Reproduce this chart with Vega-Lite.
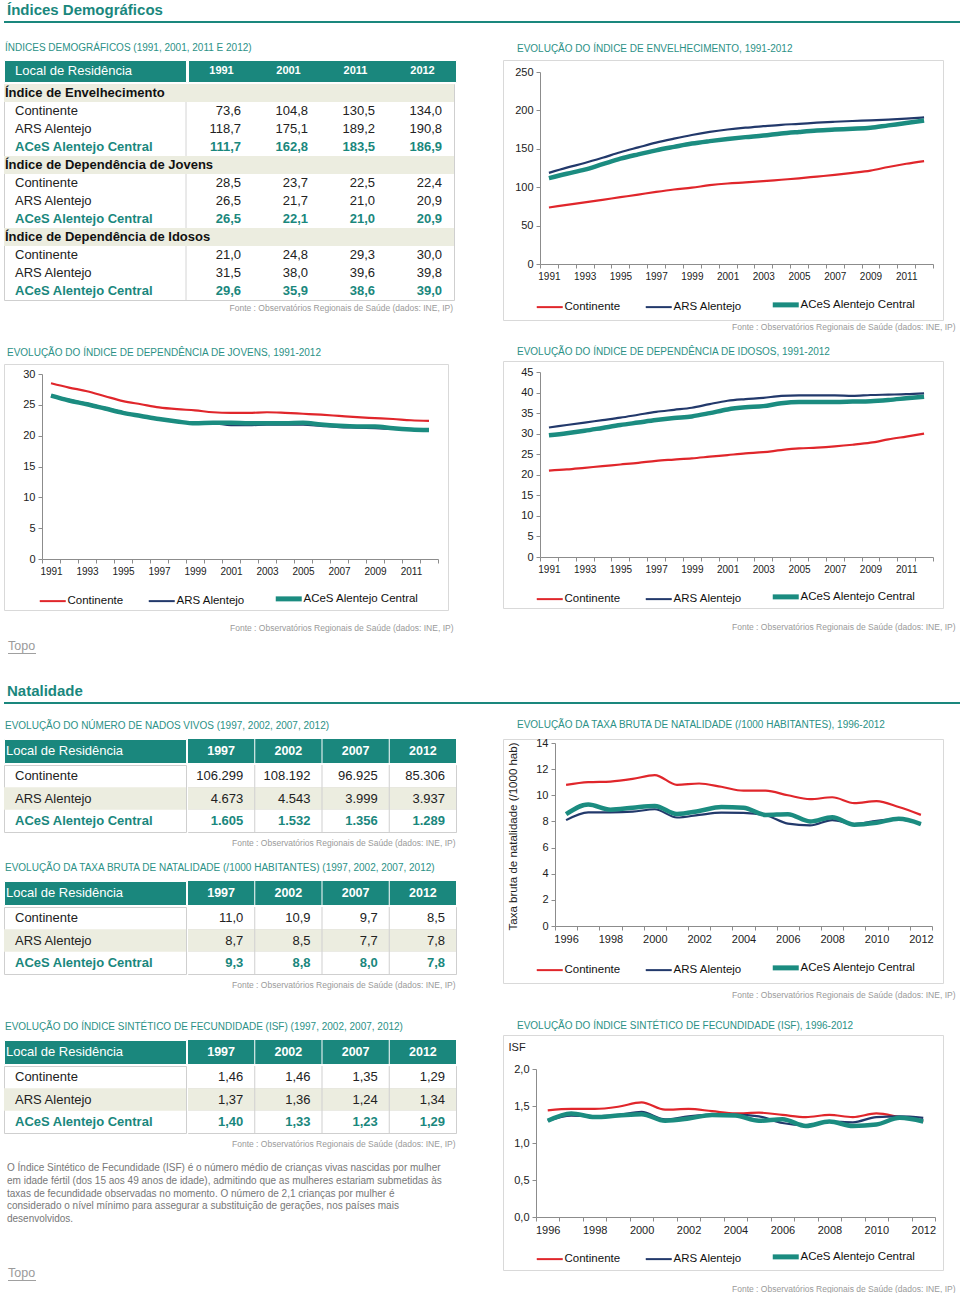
{
"$schema":"https://vega.github.io/schema/vega-lite/v6.json",
"background":"white",
"padding":{"left":3,"top":3,"right":0,"bottom":0},
"autosize":{"type":"pad"},
"config":{
 "font":"Liberation Sans",
 "view":{"stroke":null},
 "locale":{"number":{"decimal":",","thousands":".","grouping":[3],"currency":[""," €"]}},
 "title":{"font":"Liberation Sans","fontWeight":"normal","anchor":"start","frame":"group"},
 "axis":{"domainColor":"#8c8c8c","tickColor":"#8c8c8c","labelColor":"#222","labelFont":"Liberation Sans","labelFontSize":11,"grid":false,"tickSize":4,"labelPadding":3,"titleFont":"Liberation Sans","titleFontWeight":"normal","titleColor":"#222"},
 "axisX":{"labelAngle":0,"labelOverlap":false},
 "legend":{"labelFont":"Liberation Sans","labelFontSize":11.5,"labelColor":"#111","symbolType":"stroke","symbolSize":676,"symbolStrokeWidth":2,"columnPadding":20,"labelOffset":9,"padding":0}
},
"datasets":{
 "t1L":[
  {"r":1,"kind":"sec","label":"Índice de Envelhecimento"},
  {"r":2,"kind":"row","label":"Continente"},
  {"r":3,"kind":"row","label":"ARS Alentejo"},
  {"r":4,"kind":"hl","label":"ACeS Alentejo Central"},
  {"r":5,"kind":"sec","label":"Índice de Dependência de Jovens"},
  {"r":6,"kind":"row","label":"Continente"},
  {"r":7,"kind":"row","label":"ARS Alentejo"},
  {"r":8,"kind":"hl","label":"ACeS Alentejo Central"},
  {"r":9,"kind":"sec","label":"Índice de Dependência de Idosos"},
  {"r":10,"kind":"row","label":"Continente"},
  {"r":11,"kind":"row","label":"ARS Alentejo"},
  {"r":12,"kind":"hl","label":"ACeS Alentejo Central"}
 ],
 "t1V":[
  {"r":2,"kind":"row","year":1991,"v":73.6},{"r":2,"kind":"row","year":2001,"v":104.8},{"r":2,"kind":"row","year":2011,"v":130.5},{"r":2,"kind":"row","year":2012,"v":134.0},
  {"r":3,"kind":"row","year":1991,"v":118.7},{"r":3,"kind":"row","year":2001,"v":175.1},{"r":3,"kind":"row","year":2011,"v":189.2},{"r":3,"kind":"row","year":2012,"v":190.8},
  {"r":4,"kind":"hl","year":1991,"v":111.7},{"r":4,"kind":"hl","year":2001,"v":162.8},{"r":4,"kind":"hl","year":2011,"v":183.5},{"r":4,"kind":"hl","year":2012,"v":186.9},
  {"r":6,"kind":"row","year":1991,"v":28.5},{"r":6,"kind":"row","year":2001,"v":23.7},{"r":6,"kind":"row","year":2011,"v":22.5},{"r":6,"kind":"row","year":2012,"v":22.4},
  {"r":7,"kind":"row","year":1991,"v":26.5},{"r":7,"kind":"row","year":2001,"v":21.7},{"r":7,"kind":"row","year":2011,"v":21.0},{"r":7,"kind":"row","year":2012,"v":20.9},
  {"r":8,"kind":"hl","year":1991,"v":26.5},{"r":8,"kind":"hl","year":2001,"v":22.1},{"r":8,"kind":"hl","year":2011,"v":21.0},{"r":8,"kind":"hl","year":2012,"v":20.9},
  {"r":10,"kind":"row","year":1991,"v":21.0},{"r":10,"kind":"row","year":2001,"v":24.8},{"r":10,"kind":"row","year":2011,"v":29.3},{"r":10,"kind":"row","year":2012,"v":30.0},
  {"r":11,"kind":"row","year":1991,"v":31.5},{"r":11,"kind":"row","year":2001,"v":38.0},{"r":11,"kind":"row","year":2011,"v":39.6},{"r":11,"kind":"row","year":2012,"v":39.8},
  {"r":12,"kind":"hl","year":1991,"v":29.6},{"r":12,"kind":"hl","year":2001,"v":35.9},{"r":12,"kind":"hl","year":2011,"v":38.6},{"r":12,"kind":"hl","year":2012,"v":39.0}
 ],
 "tL":[
  {"r":1,"kind":"row","label":"Continente"},
  {"r":2,"kind":"row","label":"ARS Alentejo"},
  {"r":3,"kind":"hl","label":"ACeS Alentejo Central"}
 ],
 "tV":[
  {"t":"nat","r":1,"kind":"row","year":1997,"v":106299},{"t":"nat","r":1,"kind":"row","year":2002,"v":108192},{"t":"nat","r":1,"kind":"row","year":2007,"v":96925},{"t":"nat","r":1,"kind":"row","year":2012,"v":85306},
  {"t":"nat","r":2,"kind":"row","year":1997,"v":4673},{"t":"nat","r":2,"kind":"row","year":2002,"v":4543},{"t":"nat","r":2,"kind":"row","year":2007,"v":3999},{"t":"nat","r":2,"kind":"row","year":2012,"v":3937},
  {"t":"nat","r":3,"kind":"hl","year":1997,"v":1605},{"t":"nat","r":3,"kind":"hl","year":2002,"v":1532},{"t":"nat","r":3,"kind":"hl","year":2007,"v":1356},{"t":"nat","r":3,"kind":"hl","year":2012,"v":1289},
  {"t":"tbn","r":1,"kind":"row","year":1997,"v":11.0},{"t":"tbn","r":1,"kind":"row","year":2002,"v":10.9},{"t":"tbn","r":1,"kind":"row","year":2007,"v":9.7},{"t":"tbn","r":1,"kind":"row","year":2012,"v":8.5},
  {"t":"tbn","r":2,"kind":"row","year":1997,"v":8.7},{"t":"tbn","r":2,"kind":"row","year":2002,"v":8.5},{"t":"tbn","r":2,"kind":"row","year":2007,"v":7.7},{"t":"tbn","r":2,"kind":"row","year":2012,"v":7.8},
  {"t":"tbn","r":3,"kind":"hl","year":1997,"v":9.3},{"t":"tbn","r":3,"kind":"hl","year":2002,"v":8.8},{"t":"tbn","r":3,"kind":"hl","year":2007,"v":8.0},{"t":"tbn","r":3,"kind":"hl","year":2012,"v":7.8},
  {"t":"isf","r":1,"kind":"row","year":1997,"v":1.46},{"t":"isf","r":1,"kind":"row","year":2002,"v":1.46},{"t":"isf","r":1,"kind":"row","year":2007,"v":1.35},{"t":"isf","r":1,"kind":"row","year":2012,"v":1.29},
  {"t":"isf","r":2,"kind":"row","year":1997,"v":1.37},{"t":"isf","r":2,"kind":"row","year":2002,"v":1.36},{"t":"isf","r":2,"kind":"row","year":2007,"v":1.24},{"t":"isf","r":2,"kind":"row","year":2012,"v":1.34},
  {"t":"isf","r":3,"kind":"hl","year":1997,"v":1.40},{"t":"isf","r":3,"kind":"hl","year":2002,"v":1.33},{"t":"isf","r":3,"kind":"hl","year":2007,"v":1.23},{"t":"isf","r":3,"kind":"hl","year":2012,"v":1.29}
 ],
 "para":[
  {"i":1,"line":"O Índice Sintético de Fecundidade (ISF) é o número médio de crianças vivas nascidas por mulher"},
  {"i":2,"line":"em idade fértil (dos 15 aos 49 anos de idade), admitindo que as mulheres estariam submetidas às"},
  {"i":3,"line":"taxas de fecundidade observadas no momento. O número de 2,1 crianças por mulher é"},
  {"i":4,"line":"considerado o nível mínimo para assegurar a substituição de gerações, nos países mais"},
  {"i":5,"line":"desenvolvidos."}
 ],
 "env":[
  {"s":"Continente","year":1991,"v":73.6},{"s":"Continente","year":1992,"v":76.9},{"s":"Continente","year":1993,"v":80.2},{"s":"Continente","year":1994,"v":83.6},{"s":"Continente","year":1995,"v":87.0},{"s":"Continente","year":1996,"v":90.4},{"s":"Continente","year":1997,"v":93.9},{"s":"Continente","year":1998,"v":97.0},{"s":"Continente","year":1999,"v":99.4},{"s":"Continente","year":2000,"v":102.6},{"s":"Continente","year":2001,"v":104.8},{"s":"Continente","year":2002,"v":106.2},{"s":"Continente","year":2003,"v":107.8},{"s":"Continente","year":2004,"v":109.7},{"s":"Continente","year":2005,"v":111.6},{"s":"Continente","year":2006,"v":113.8},{"s":"Continente","year":2007,"v":116.0},{"s":"Continente","year":2008,"v":118.6},{"s":"Continente","year":2009,"v":121.6},{"s":"Continente","year":2010,"v":126.3},{"s":"Continente","year":2011,"v":130.5},{"s":"Continente","year":2012,"v":134.0},
  {"s":"ARS Alentejo","year":1991,"v":118.7},{"s":"ARS Alentejo","year":1992,"v":125.5},{"s":"ARS Alentejo","year":1993,"v":131.5},{"s":"ARS Alentejo","year":1994,"v":138.3},{"s":"ARS Alentejo","year":1995,"v":145.5},{"s":"ARS Alentejo","year":1996,"v":151.8},{"s":"ARS Alentejo","year":1997,"v":158.0},{"s":"ARS Alentejo","year":1998,"v":163.2},{"s":"ARS Alentejo","year":1999,"v":168.0},{"s":"ARS Alentejo","year":2000,"v":172.0},{"s":"ARS Alentejo","year":2001,"v":175.1},{"s":"ARS Alentejo","year":2002,"v":177.5},{"s":"ARS Alentejo","year":2003,"v":179.4},{"s":"ARS Alentejo","year":2004,"v":181.2},{"s":"ARS Alentejo","year":2005,"v":182.5},{"s":"ARS Alentejo","year":2006,"v":184.0},{"s":"ARS Alentejo","year":2007,"v":185.2},{"s":"ARS Alentejo","year":2008,"v":186.2},{"s":"ARS Alentejo","year":2009,"v":187.0},{"s":"ARS Alentejo","year":2010,"v":188.0},{"s":"ARS Alentejo","year":2011,"v":189.2},{"s":"ARS Alentejo","year":2012,"v":190.8},
  {"s":"ACeS Alentejo Central","year":1991,"v":111.7},{"s":"ACeS Alentejo Central","year":1992,"v":117.5},{"s":"ACeS Alentejo Central","year":1993,"v":122.8},{"s":"ACeS Alentejo Central","year":1994,"v":130.0},{"s":"ACeS Alentejo Central","year":1995,"v":137.2},{"s":"ACeS Alentejo Central","year":1996,"v":142.8},{"s":"ACeS Alentejo Central","year":1997,"v":148.0},{"s":"ACeS Alentejo Central","year":1998,"v":152.5},{"s":"ACeS Alentejo Central","year":1999,"v":156.8},{"s":"ACeS Alentejo Central","year":2000,"v":160.0},{"s":"ACeS Alentejo Central","year":2001,"v":162.8},{"s":"ACeS Alentejo Central","year":2002,"v":165.2},{"s":"ACeS Alentejo Central","year":2003,"v":167.2},{"s":"ACeS Alentejo Central","year":2004,"v":170.0},{"s":"ACeS Alentejo Central","year":2005,"v":172.0},{"s":"ACeS Alentejo Central","year":2006,"v":173.8},{"s":"ACeS Alentejo Central","year":2007,"v":175.0},{"s":"ACeS Alentejo Central","year":2008,"v":176.0},{"s":"ACeS Alentejo Central","year":2009,"v":177.3},{"s":"ACeS Alentejo Central","year":2010,"v":180.5},{"s":"ACeS Alentejo Central","year":2011,"v":183.5},{"s":"ACeS Alentejo Central","year":2012,"v":186.9}
 ],
 "jov":[
  {"s":"Continente","year":1991,"v":28.5},{"s":"Continente","year":1992,"v":27.8},{"s":"Continente","year":1993,"v":27.2},{"s":"Continente","year":1994,"v":26.4},{"s":"Continente","year":1995,"v":25.6},{"s":"Continente","year":1996,"v":25.1},{"s":"Continente","year":1997,"v":24.6},{"s":"Continente","year":1998,"v":24.3},{"s":"Continente","year":1999,"v":24.1},{"s":"Continente","year":2000,"v":23.8},{"s":"Continente","year":2001,"v":23.7},{"s":"Continente","year":2002,"v":23.7},{"s":"Continente","year":2003,"v":23.8},{"s":"Continente","year":2004,"v":23.7},{"s":"Continente","year":2005,"v":23.55},{"s":"Continente","year":2006,"v":23.4},{"s":"Continente","year":2007,"v":23.2},{"s":"Continente","year":2008,"v":23.0},{"s":"Continente","year":2009,"v":22.85},{"s":"Continente","year":2010,"v":22.7},{"s":"Continente","year":2011,"v":22.5},{"s":"Continente","year":2012,"v":22.4},
  {"s":"ARS Alentejo","year":1991,"v":26.5},{"s":"ARS Alentejo","year":1992,"v":25.8},{"s":"ARS Alentejo","year":1993,"v":25.2},{"s":"ARS Alentejo","year":1994,"v":24.5},{"s":"ARS Alentejo","year":1995,"v":23.8},{"s":"ARS Alentejo","year":1996,"v":23.2},{"s":"ARS Alentejo","year":1997,"v":22.7},{"s":"ARS Alentejo","year":1998,"v":22.3},{"s":"ARS Alentejo","year":1999,"v":22.0},{"s":"ARS Alentejo","year":2000,"v":22.0},{"s":"ARS Alentejo","year":2001,"v":21.7},{"s":"ARS Alentejo","year":2002,"v":21.7},{"s":"ARS Alentejo","year":2003,"v":21.8},{"s":"ARS Alentejo","year":2004,"v":21.8},{"s":"ARS Alentejo","year":2005,"v":21.8},{"s":"ARS Alentejo","year":2006,"v":21.6},{"s":"ARS Alentejo","year":2007,"v":21.4},{"s":"ARS Alentejo","year":2008,"v":21.3},{"s":"ARS Alentejo","year":2009,"v":21.2},{"s":"ARS Alentejo","year":2010,"v":21.1},{"s":"ARS Alentejo","year":2011,"v":21.0},{"s":"ARS Alentejo","year":2012,"v":20.9},
  {"s":"ACeS Alentejo Central","year":1991,"v":26.5},{"s":"ACeS Alentejo Central","year":1992,"v":25.7},{"s":"ACeS Alentejo Central","year":1993,"v":25.1},{"s":"ACeS Alentejo Central","year":1994,"v":24.4},{"s":"ACeS Alentejo Central","year":1995,"v":23.7},{"s":"ACeS Alentejo Central","year":1996,"v":23.2},{"s":"ACeS Alentejo Central","year":1997,"v":22.7},{"s":"ACeS Alentejo Central","year":1998,"v":22.3},{"s":"ACeS Alentejo Central","year":1999,"v":22.0},{"s":"ACeS Alentejo Central","year":2000,"v":22.1},{"s":"ACeS Alentejo Central","year":2001,"v":22.1},{"s":"ACeS Alentejo Central","year":2002,"v":22.0},{"s":"ACeS Alentejo Central","year":2003,"v":22.0},{"s":"ACeS Alentejo Central","year":2004,"v":22.0},{"s":"ACeS Alentejo Central","year":2005,"v":22.1},{"s":"ACeS Alentejo Central","year":2006,"v":21.8},{"s":"ACeS Alentejo Central","year":2007,"v":21.6},{"s":"ACeS Alentejo Central","year":2008,"v":21.5},{"s":"ACeS Alentejo Central","year":2009,"v":21.5},{"s":"ACeS Alentejo Central","year":2010,"v":21.2},{"s":"ACeS Alentejo Central","year":2011,"v":21.0},{"s":"ACeS Alentejo Central","year":2012,"v":20.9}
 ],
 "ido":[
  {"s":"Continente","year":1991,"v":21.0},{"s":"Continente","year":1992,"v":21.3},{"s":"Continente","year":1993,"v":21.7},{"s":"Continente","year":1994,"v":22.1},{"s":"Continente","year":1995,"v":22.5},{"s":"Continente","year":1996,"v":22.9},{"s":"Continente","year":1997,"v":23.4},{"s":"Continente","year":1998,"v":23.7},{"s":"Continente","year":1999,"v":24.0},{"s":"Continente","year":2000,"v":24.4},{"s":"Continente","year":2001,"v":24.8},{"s":"Continente","year":2002,"v":25.2},{"s":"Continente","year":2003,"v":25.5},{"s":"Continente","year":2004,"v":26.0},{"s":"Continente","year":2005,"v":26.4},{"s":"Continente","year":2006,"v":26.6},{"s":"Continente","year":2007,"v":26.9},{"s":"Continente","year":2008,"v":27.3},{"s":"Continente","year":2009,"v":27.8},{"s":"Continente","year":2010,"v":28.6},{"s":"Continente","year":2011,"v":29.3},{"s":"Continente","year":2012,"v":30.0},
  {"s":"ARS Alentejo","year":1991,"v":31.5},{"s":"ARS Alentejo","year":1992,"v":32.1},{"s":"ARS Alentejo","year":1993,"v":32.7},{"s":"ARS Alentejo","year":1994,"v":33.3},{"s":"ARS Alentejo","year":1995,"v":33.9},{"s":"ARS Alentejo","year":1996,"v":34.6},{"s":"ARS Alentejo","year":1997,"v":35.3},{"s":"ARS Alentejo","year":1998,"v":35.8},{"s":"ARS Alentejo","year":1999,"v":36.3},{"s":"ARS Alentejo","year":2000,"v":37.2},{"s":"ARS Alentejo","year":2001,"v":38.0},{"s":"ARS Alentejo","year":2002,"v":38.4},{"s":"ARS Alentejo","year":2003,"v":38.7},{"s":"ARS Alentejo","year":2004,"v":39.2},{"s":"ARS Alentejo","year":2005,"v":39.3},{"s":"ARS Alentejo","year":2006,"v":39.3},{"s":"ARS Alentejo","year":2007,"v":39.3},{"s":"ARS Alentejo","year":2008,"v":39.2},{"s":"ARS Alentejo","year":2009,"v":39.4},{"s":"ARS Alentejo","year":2010,"v":39.5},{"s":"ARS Alentejo","year":2011,"v":39.6},{"s":"ARS Alentejo","year":2012,"v":39.8},
  {"s":"ACeS Alentejo Central","year":1991,"v":29.6},{"s":"ACeS Alentejo Central","year":1992,"v":30.1},{"s":"ACeS Alentejo Central","year":1993,"v":30.7},{"s":"ACeS Alentejo Central","year":1994,"v":31.4},{"s":"ACeS Alentejo Central","year":1995,"v":32.1},{"s":"ACeS Alentejo Central","year":1996,"v":32.7},{"s":"ACeS Alentejo Central","year":1997,"v":33.3},{"s":"ACeS Alentejo Central","year":1998,"v":33.8},{"s":"ACeS Alentejo Central","year":1999,"v":34.2},{"s":"ACeS Alentejo Central","year":2000,"v":35.0},{"s":"ACeS Alentejo Central","year":2001,"v":35.9},{"s":"ACeS Alentejo Central","year":2002,"v":36.4},{"s":"ACeS Alentejo Central","year":2003,"v":36.7},{"s":"ACeS Alentejo Central","year":2004,"v":37.4},{"s":"ACeS Alentejo Central","year":2005,"v":37.7},{"s":"ACeS Alentejo Central","year":2006,"v":37.7},{"s":"ACeS Alentejo Central","year":2007,"v":37.7},{"s":"ACeS Alentejo Central","year":2008,"v":37.8},{"s":"ACeS Alentejo Central","year":2009,"v":37.9},{"s":"ACeS Alentejo Central","year":2010,"v":38.2},{"s":"ACeS Alentejo Central","year":2011,"v":38.6},{"s":"ACeS Alentejo Central","year":2012,"v":39.0}
 ],
 "tbn":[
  {"s":"Continente","year":1996,"v":10.8},{"s":"Continente","year":1997,"v":11.0},{"s":"Continente","year":1998,"v":11.05},{"s":"Continente","year":1999,"v":11.25},{"s":"Continente","year":2000,"v":11.55},{"s":"Continente","year":2001,"v":10.8},{"s":"Continente","year":2002,"v":10.9},{"s":"Continente","year":2003,"v":10.65},{"s":"Continente","year":2004,"v":10.35},{"s":"Continente","year":2005,"v":10.35},{"s":"Continente","year":2006,"v":10.0},{"s":"Continente","year":2007,"v":9.7},{"s":"Continente","year":2008,"v":9.85},{"s":"Continente","year":2009,"v":9.4},{"s":"Continente","year":2010,"v":9.55},{"s":"Continente","year":2011,"v":9.1},{"s":"Continente","year":2012,"v":8.5},
  {"s":"ARS Alentejo","year":1996,"v":8.1},{"s":"ARS Alentejo","year":1997,"v":8.7},{"s":"ARS Alentejo","year":1998,"v":8.7},{"s":"ARS Alentejo","year":1999,"v":8.75},{"s":"ARS Alentejo","year":2000,"v":8.93},{"s":"ARS Alentejo","year":2001,"v":8.3},{"s":"ARS Alentejo","year":2002,"v":8.5},{"s":"ARS Alentejo","year":2003,"v":8.67},{"s":"ARS Alentejo","year":2004,"v":8.65},{"s":"ARS Alentejo","year":2005,"v":8.47},{"s":"ARS Alentejo","year":2006,"v":7.83},{"s":"ARS Alentejo","year":2007,"v":7.7},{"s":"ARS Alentejo","year":2008,"v":8.1},{"s":"ARS Alentejo","year":2009,"v":7.8},{"s":"ARS Alentejo","year":2010,"v":8.05},{"s":"ARS Alentejo","year":2011,"v":8.15},{"s":"ARS Alentejo","year":2012,"v":7.8},
  {"s":"ACeS Alentejo Central","year":1996,"v":8.55},{"s":"ACeS Alentejo Central","year":1997,"v":9.3},{"s":"ACeS Alentejo Central","year":1998,"v":8.9},{"s":"ACeS Alentejo Central","year":1999,"v":9.05},{"s":"ACeS Alentejo Central","year":2000,"v":9.18},{"s":"ACeS Alentejo Central","year":2001,"v":8.57},{"s":"ACeS Alentejo Central","year":2002,"v":8.8},{"s":"ACeS Alentejo Central","year":2003,"v":9.1},{"s":"ACeS Alentejo Central","year":2004,"v":9.05},{"s":"ACeS Alentejo Central","year":2005,"v":8.5},{"s":"ACeS Alentejo Central","year":2006,"v":8.55},{"s":"ACeS Alentejo Central","year":2007,"v":8.0},{"s":"ACeS Alentejo Central","year":2008,"v":8.32},{"s":"ACeS Alentejo Central","year":2009,"v":7.75},{"s":"ACeS Alentejo Central","year":2010,"v":7.9},{"s":"ACeS Alentejo Central","year":2011,"v":8.2},{"s":"ACeS Alentejo Central","year":2012,"v":7.8}
 ],
 "isf":[
  {"s":"Continente","year":1996,"v":1.44},{"s":"Continente","year":1997,"v":1.46},{"s":"Continente","year":1998,"v":1.46},{"s":"Continente","year":1999,"v":1.49},{"s":"Continente","year":2000,"v":1.55},{"s":"Continente","year":2001,"v":1.45},{"s":"Continente","year":2002,"v":1.46},{"s":"Continente","year":2003,"v":1.43},{"s":"Continente","year":2004,"v":1.40},{"s":"Continente","year":2005,"v":1.41},{"s":"Continente","year":2006,"v":1.38},{"s":"Continente","year":2007,"v":1.35},{"s":"Continente","year":2008,"v":1.38},{"s":"Continente","year":2009,"v":1.35},{"s":"Continente","year":2010,"v":1.40},{"s":"Continente","year":2011,"v":1.35},{"s":"Continente","year":2012,"v":1.29},
  {"s":"ARS Alentejo","year":1996,"v":1.30},{"s":"ARS Alentejo","year":1997,"v":1.37},{"s":"ARS Alentejo","year":1998,"v":1.36},{"s":"ARS Alentejo","year":1999,"v":1.38},{"s":"ARS Alentejo","year":2000,"v":1.42},{"s":"ARS Alentejo","year":2001,"v":1.32},{"s":"ARS Alentejo","year":2002,"v":1.36},{"s":"ARS Alentejo","year":2003,"v":1.38},{"s":"ARS Alentejo","year":2004,"v":1.38},{"s":"ARS Alentejo","year":2005,"v":1.36},{"s":"ARS Alentejo","year":2006,"v":1.27},{"s":"ARS Alentejo","year":2007,"v":1.24},{"s":"ARS Alentejo","year":2008,"v":1.29},{"s":"ARS Alentejo","year":2009,"v":1.28},{"s":"ARS Alentejo","year":2010,"v":1.35},{"s":"ARS Alentejo","year":2011,"v":1.36},{"s":"ARS Alentejo","year":2012,"v":1.34},
  {"s":"ACeS Alentejo Central","year":1996,"v":1.30},{"s":"ACeS Alentejo Central","year":1997,"v":1.40},{"s":"ACeS Alentejo Central","year":1998,"v":1.35},{"s":"ACeS Alentejo Central","year":1999,"v":1.37},{"s":"ACeS Alentejo Central","year":2000,"v":1.39},{"s":"ACeS Alentejo Central","year":2001,"v":1.30},{"s":"ACeS Alentejo Central","year":2002,"v":1.33},{"s":"ACeS Alentejo Central","year":2003,"v":1.38},{"s":"ACeS Alentejo Central","year":2004,"v":1.37},{"s":"ACeS Alentejo Central","year":2005,"v":1.30},{"s":"ACeS Alentejo Central","year":2006,"v":1.32},{"s":"ACeS Alentejo Central","year":2007,"v":1.23},{"s":"ACeS Alentejo Central","year":2008,"v":1.29},{"s":"ACeS Alentejo Central","year":2009,"v":1.23},{"s":"ACeS Alentejo Central","year":2010,"v":1.25},{"s":"ACeS Alentejo Central","year":2011,"v":1.34},{"s":"ACeS Alentejo Central","year":2012,"v":1.29}
 ]
},
"resolve":{"legend":{"color":"independent"}},
"spacing":30,
"vconcat":[
 {"spacing":19,"resolve":{"legend":{"color":"independent"}},"vconcat":[
  {"width":957,"height":2,"view":{"fill":"#1a877d","stroke":null},
   "title":{"text":"Índices Demográficos","anchor":"start","frame":"group","offset":3,"dx":3,"fontSize":15,"fontWeight":"bold","color":"#1a877d"},
   "data":{"values":[]},"mark":"rect","encoding":{}},
  {"spacing":45,"resolve":{"legend":{"color":"independent"}},"hconcat":[
   {"spacing":34,"resolve":{"legend":{"color":"independent"}},"vconcat":[
    {"spacing":0,
     "title":{"text":"ÍNDICES DEMOGRÁFICOS (1991, 2001, 2011 E 2012)","anchor":"start","frame":"group","offset":7,"dx":1,"fontSize":10,"fontWeight":"normal","color":"#2b9186"},
     "vconcat":[
      {"spacing":0,"hconcat":[
       {"width":182,"height":22,"view":{"fill":"#1a877d","stroke":"white"},"data":{"values":[{"h":"Local de Residência"}]},
        "mark":{"type":"text","align":"left","dx":11,"fontSize":13,"color":"white"},
        "encoding":{"x":{"datum":0,"type":"quantitative","scale":{"domain":[0,1]},"axis":null},"text":{"field":"h"}}},
       {"width":268,"height":22,"view":{"fill":"#1a877d","stroke":"white"},"data":{"values":[{"year":1991},{"year":2001},{"year":2011},{"year":2012}]},
        "mark":{"type":"text","fontSize":11,"fontWeight":"bold","color":"white"},
        "encoding":{"x":{"field":"year","type":"ordinal","axis":null,"scale":{"type":"band","paddingInner":0,"paddingOuter":0}},"text":{"field":"year"}}}
      ]},
      {"width":450,"height":216,"view":{"stroke":"#cfcfcf"},
       "title":{"text":"Fonte : Observatórios Regionais de Saúde (dados: INE, IP)","orient":"bottom","anchor":"end","frame":"group","offset":3,"dx":-1,"fontSize":8.5,"fontWeight":"normal","color":"#9a9a9a"},
       "resolve":{"scale":{"x":"independent"}},
       "layer":[
        {"data":{"name":"t1L"},"transform":[{"filter":"datum.r == 2"}],"mark":{"type":"rule","color":"#d4d4d4"},
         "encoding":{"x":{"datum":1991,"type":"ordinal","bandPosition":0,"scale":{"type":"band","domain":[1991,2001,2011,2012],"range":[182,450],"paddingInner":0,"paddingOuter":0},"axis":null}}},
        {"data":{"name":"t1L"},"transform":[{"filter":"datum.kind == 'sec'"}],"mark":{"type":"rect","fill":"#ecede0"},
         "encoding":{"y":{"field":"r","type":"ordinal","axis":null,"scale":{"domain":[1,2,3,4,5,6,7,8,9,10,11,12],"paddingInner":0,"paddingOuter":0}}}},
        {"data":{"name":"t1L"},"transform":[{"filter":"datum.kind == 'sec'"}],"mark":{"type":"text","align":"left","dx":1,"fontSize":13,"fontWeight":"bold","color":"#111"},
         "encoding":{"y":{"field":"r","type":"ordinal","axis":null},"x":{"datum":0,"type":"quantitative","scale":{"domain":[0,1]},"axis":null},"text":{"field":"label"}}},
        {"data":{"name":"t1L"},"transform":[{"filter":"datum.kind == 'row'"}],"mark":{"type":"text","align":"left","dx":11,"fontSize":13,"color":"#222"},
         "encoding":{"y":{"field":"r","type":"ordinal","axis":null},"x":{"datum":0,"type":"quantitative","scale":{"domain":[0,1]},"axis":null},"text":{"field":"label"}}},
        {"data":{"name":"t1L"},"transform":[{"filter":"datum.kind == 'hl'"}],"mark":{"type":"text","align":"left","dx":11,"fontSize":13,"fontWeight":"bold","color":"#1a877d"},
         "encoding":{"y":{"field":"r","type":"ordinal","axis":null},"x":{"datum":0,"type":"quantitative","scale":{"domain":[0,1]},"axis":null},"text":{"field":"label"}}},
        {"data":{"name":"t1V"},"transform":[{"filter":"datum.kind == 'row'"}],"mark":{"type":"text","align":"right","dx":-12,"fontSize":13,"color":"#222"},
         "encoding":{"y":{"field":"r","type":"ordinal","axis":null},"x":{"field":"year","type":"ordinal","axis":null,"bandPosition":1,"scale":{"type":"band","range":[182,450],"paddingInner":0,"paddingOuter":0}},"text":{"field":"v","format":".1f"}}},
        {"data":{"name":"t1V"},"transform":[{"filter":"datum.kind == 'hl'"}],"mark":{"type":"text","align":"right","dx":-12,"fontSize":13,"fontWeight":"bold","color":"#1a877d"},
         "encoding":{"y":{"field":"r","type":"ordinal","axis":null},"x":{"field":"year","type":"ordinal","axis":null,"bandPosition":1,"scale":{"type":"band","range":[182,450],"paddingInner":0,"paddingOuter":0}},"text":{"field":"v","format":".1f"}}}
       ]}
     ]},
    {"spacing":7,"resolve":{"legend":{"color":"independent"}},"vconcat":[
     {"resolve":{"legend":{"color":"independent"}},
      "title":{"text":"Fonte : Observatórios Regionais de Saúde (dados: INE, IP)","orient":"bottom","anchor":"end","frame":"bounds","offset":13,"dx":5,"fontSize":8.5,"fontWeight":"normal","color":"#9a9a9a"},
      "vconcat":[{
       "title":{"text":"EVOLUÇÃO DO ÍNDICE DE DEPENDÊNCIA DE JOVENS, 1991-2012","anchor":"start","frame":"group","offset":6,"dx":3,"fontSize":10,"fontWeight":"normal","color":"#2b9186"},
       "width":444,"height":246,"view":{"stroke":"#d9d9d9"},
       "data":{"name":"jov"},
       "mark":{"type":"line","interpolate":"monotone"},
       "encoding":{
        "x":{"field":"year","type":"ordinal","bandPosition":0.5,"scale":{"type":"band","paddingInner":0,"paddingOuter":0,"range":[38,434]},"axis":{"offset":-51,"tickBand":"extent","labelExpr":"datum.value % 2 == 1 ? datum.label : ''","labelFontSize":10,"title":null}},
        "y":{"field":"v","type":"quantitative","scale":{"domain":[0,30],"range":[195,10],"nice":false},"axis":{"offset":-38,"values":[0,5,10,15,20,25,30],"title":null}},
        "color":{"field":"s","type":"nominal","scale":{"domain":["Continente","ARS Alentejo","ACeS Alentejo Central"],"range":["#e0262b","#22396b","#1b8c80"]},
         "legend":{"title":null,"orient":"none","legendX":43,"legendY":229,"direction":"horizontal","symbolType":"stroke","symbolSize":676,"columnPadding":20,"labelOffset":9,"encode":{"symbols":{"update":{"strokeWidth":{"signal":"datum.value == 'ACeS Alentejo Central' ? 5 : 2"}}}}}},
        "strokeWidth":{"condition":{"test":"datum.s == 'ACeS Alentejo Central'","value":4.5},"value":2.2}
       }
      }]},
     {"spacing":3,"hconcat":[
      {"width":1,"height":1,"data":{"values":[]},"mark":"rect","encoding":{}},
      {"width":28,"height":1,"view":{"fill":"#a0a0a0","stroke":null},
       "title":{"text":"Topo","anchor":"start","frame":"group","offset":1,"fontSize":12.5,"fontWeight":"normal","color":"#9a9a9a"},
       "data":{"values":[]},"mark":"rect","encoding":{}}
     ]}
    ]}
   ]},
   {"spacing":15,"resolve":{"legend":{"color":"independent"}},"vconcat":[
    {"resolve":{"legend":{"color":"independent"}},
     "title":{"text":"Fonte : Observatórios Regionais de Saúde (dados: INE, IP)","orient":"bottom","anchor":"end","frame":"bounds","offset":2,"dx":12,"fontSize":8.5,"fontWeight":"normal","color":"#9a9a9a"},
     "vconcat":[{
      "title":{"text":"EVOLUÇÃO DO ÍNDICE DE ENVELHECIMENTO, 1991-2012","anchor":"start","frame":"group","offset":6,"dx":14,"fontSize":10,"fontWeight":"normal","color":"#2b9186"},
      "width":440,"height":260,"view":{"stroke":"#d9d9d9"},
      "data":{"name":"env"},
      "mark":{"type":"line","interpolate":"monotone"},
      "encoding":{
       "x":{"field":"year","type":"ordinal","bandPosition":0.5,"scale":{"type":"band","paddingInner":0,"paddingOuter":0,"range":[37,430]},"axis":{"offset":-56,"tickBand":"extent","labelExpr":"datum.value % 2 == 1 ? datum.label : ''","labelFontSize":10,"title":null}},
       "y":{"field":"v","type":"quantitative","scale":{"domain":[0,250],"range":[204,12],"nice":false},"axis":{"offset":-37,"values":[0,50,100,150,200,250],"title":null}},
       "color":{"field":"s","type":"nominal","scale":{"domain":["Continente","ARS Alentejo","ACeS Alentejo Central"],"range":["#e0262b","#22396b","#1b8c80"]},
        "legend":{"title":null,"orient":"none","legendX":41,"legendY":239,"direction":"horizontal","symbolType":"stroke","symbolSize":676,"columnPadding":20,"labelOffset":9,"encode":{"symbols":{"update":{"strokeWidth":{"signal":"datum.value == 'ACeS Alentejo Central' ? 5 : 2"}}}}}},
       "strokeWidth":{"condition":{"test":"datum.s == 'ACeS Alentejo Central'","value":4.5},"value":2.2}
      }
     }]},
    {"resolve":{"legend":{"color":"independent"}},
     "title":{"text":"Fonte : Observatórios Regionais de Saúde (dados: INE, IP)","orient":"bottom","anchor":"end","frame":"bounds","offset":14,"dx":12,"fontSize":8.5,"fontWeight":"normal","color":"#9a9a9a"},
     "vconcat":[{
      "title":{"text":"EVOLUÇÃO DO ÍNDICE DE DEPENDÊNCIA DE IDOSOS, 1991-2012","anchor":"start","frame":"group","offset":4,"dx":14,"fontSize":10,"fontWeight":"normal","color":"#2b9186"},
      "width":440,"height":247,"view":{"stroke":"#d9d9d9"},
      "data":{"name":"ido"},
      "mark":{"type":"line","interpolate":"monotone"},
      "encoding":{
       "x":{"field":"year","type":"ordinal","bandPosition":0.5,"scale":{"type":"band","paddingInner":0,"paddingOuter":0,"range":[37,430]},"axis":{"offset":-51,"tickBand":"extent","labelExpr":"datum.value % 2 == 1 ? datum.label : ''","labelFontSize":10,"title":null}},
       "y":{"field":"v","type":"quantitative","scale":{"domain":[0,45],"range":[196,11],"nice":false},"axis":{"offset":-37,"values":[0,5,10,15,20,25,30,35,40,45],"title":null}},
       "color":{"field":"s","type":"nominal","scale":{"domain":["Continente","ARS Alentejo","ACeS Alentejo Central"],"range":["#e0262b","#22396b","#1b8c80"]},
        "legend":{"title":null,"orient":"none","legendX":41,"legendY":230,"direction":"horizontal","symbolType":"stroke","symbolSize":676,"columnPadding":20,"labelOffset":9,"encode":{"symbols":{"update":{"strokeWidth":{"signal":"datum.value == 'ACeS Alentejo Central' ? 5 : 2"}}}}}},
       "strokeWidth":{"condition":{"test":"datum.s == 'ACeS Alentejo Central'","value":4.5},"value":2.2}
      }
     }]}
   ]}
  ]}
 ]},
 {"spacing":15,"resolve":{"legend":{"color":"independent"}},"vconcat":[
  {"width":957,"height":2,"view":{"fill":"#1a877d","stroke":null},
   "title":{"text":"Natalidade","anchor":"start","frame":"group","offset":3,"dx":3,"fontSize":15,"fontWeight":"bold","color":"#1a877d"},
   "data":{"values":[]},"mark":"rect","encoding":{}},
  {"spacing":45,"resolve":{"legend":{"color":"independent"}},"hconcat":[
   {"spacing":32,"vconcat":[
    {"spacing":15,"vconcat":[
     {"spacing":0,
      "title":{"text":"EVOLUÇÃO DO NÚMERO DE NADOS VIVOS (1997, 2002, 2007, 2012)","anchor":"start","frame":"group","offset":8,"dx":1,"fontSize":10,"fontWeight":"normal","color":"#2b9186"},
      "vconcat":[
       {"spacing":0,"hconcat":[
        {"width":182,"height":24,"view":{"fill":"#1a877d","stroke":"white"},"data":{"values":[{"h":"Local de Residência"}]},
         "mark":{"type":"text","align":"left","dx":2,"fontSize":13,"color":"white"},
         "encoding":{"x":{"datum":0,"type":"quantitative","scale":{"domain":[0,1]},"axis":null},"text":{"field":"h"}}},
        {"width":268,"height":24,"view":{"fill":"white","stroke":"white"},"data":{"values":[{"year":1997},{"year":2002},{"year":2007},{"year":2012}]},
         "encoding":{"x":{"field":"year","type":"ordinal","axis":null,"scale":{"paddingInner":0.015,"paddingOuter":0}}},
         "layer":[
          {"mark":{"type":"rect","fill":"#1a877d"}},
          {"mark":{"type":"text","fontSize":12.5,"fontWeight":"bold","color":"white"},"encoding":{"text":{"field":"year"}}}
         ]}
       ]},
       {"spacing":0,
        "title":{"text":"Fonte : Observatórios Regionais de Saúde (dados: INE, IP)","orient":"bottom","anchor":"end","frame":"bounds","offset":6,"dx":-1,"fontSize":8.5,"fontWeight":"normal","color":"#9a9a9a"},
        "hconcat":[
        {"width":182,"height":67,"view":{"stroke":"#cfcfcf"},"data":{"name":"tL"},
         "encoding":{"y":{"field":"r","type":"ordinal","axis":null,"scale":{"paddingInner":0,"paddingOuter":0}}},
         "layer":[
          {"transform":[{"filter":"datum.r == 2"}],"mark":{"type":"rect","fill":"#ecede0"}},
          {"transform":[{"filter":"datum.kind == 'row'"}],"mark":{"type":"text","align":"left","dx":11,"fontSize":13,"color":"#222"},
           "encoding":{"x":{"datum":0,"type":"quantitative","scale":{"domain":[0,1]},"axis":null},"text":{"field":"label"}}},
          {"transform":[{"filter":"datum.kind == 'hl'"}],"mark":{"type":"text","align":"left","dx":11,"fontSize":13,"fontWeight":"bold","color":"#1a877d"},
           "encoding":{"x":{"datum":0,"type":"quantitative","scale":{"domain":[0,1]},"axis":null},"text":{"field":"label"}}}
         ]},
        {"width":268,"height":67,"view":{"fill":"#d0d0d0","stroke":"#cfcfcf"},"data":{"name":"tV"},"transform":[{"filter":"datum.t == 'nat'"}],
         "encoding":{"y":{"field":"r","type":"ordinal","axis":null,"scale":{"paddingInner":0,"paddingOuter":0}},"x":{"field":"year","type":"ordinal","axis":null,"scale":{"paddingInner":0.015,"paddingOuter":0}}},
         "layer":[
          {"mark":{"type":"rect"},"encoding":{"fill":{"condition":{"test":"datum.r == 2","value":"#ecede0"},"value":"white"}}},
          {"transform":[{"filter":"datum.kind == 'row'"}],"mark":{"type":"text","align":"right","dx":-11,"fontSize":13,"color":"#222"},
           "encoding":{"x":{"field":"year","type":"ordinal","axis":null,"bandPosition":1},"text":{"field":"v","format":",.0f"}}},
          {"transform":[{"filter":"datum.kind == 'hl'"}],"mark":{"type":"text","align":"right","dx":-11,"fontSize":13,"fontWeight":"bold","color":"#1a877d"},
           "encoding":{"x":{"field":"year","type":"ordinal","axis":null,"bandPosition":1},"text":{"field":"v","format":",.0f"}}}
         ]}
       ]}
      ]},
     {"spacing":0,
      "title":{"text":"EVOLUÇÃO DA TAXA BRUTA DE NATALIDADE (/1000 HABITANTES) (1997, 2002, 2007, 2012)","anchor":"start","frame":"group","offset":8,"dx":1,"fontSize":10,"fontWeight":"normal","color":"#2b9186"},
      "vconcat":[
       {"spacing":0,"hconcat":[
        {"width":182,"height":24,"view":{"fill":"#1a877d","stroke":"white"},"data":{"values":[{"h":"Local de Residência"}]},
         "mark":{"type":"text","align":"left","dx":2,"fontSize":13,"color":"white"},
         "encoding":{"x":{"datum":0,"type":"quantitative","scale":{"domain":[0,1]},"axis":null},"text":{"field":"h"}}},
        {"width":268,"height":24,"view":{"fill":"white","stroke":"white"},"data":{"values":[{"year":1997},{"year":2002},{"year":2007},{"year":2012}]},
         "encoding":{"x":{"field":"year","type":"ordinal","axis":null,"scale":{"paddingInner":0.015,"paddingOuter":0}}},
         "layer":[
          {"mark":{"type":"rect","fill":"#1a877d"}},
          {"mark":{"type":"text","fontSize":12.5,"fontWeight":"bold","color":"white"},"encoding":{"text":{"field":"year"}}}
         ]}
       ]},
       {"spacing":0,
        "title":{"text":"Fonte : Observatórios Regionais de Saúde (dados: INE, IP)","orient":"bottom","anchor":"end","frame":"bounds","offset":6,"dx":-1,"fontSize":8.5,"fontWeight":"normal","color":"#9a9a9a"},
        "hconcat":[
        {"width":182,"height":67,"view":{"stroke":"#cfcfcf"},"data":{"name":"tL"},
         "encoding":{"y":{"field":"r","type":"ordinal","axis":null,"scale":{"paddingInner":0,"paddingOuter":0}}},
         "layer":[
          {"transform":[{"filter":"datum.r == 2"}],"mark":{"type":"rect","fill":"#ecede0"}},
          {"transform":[{"filter":"datum.kind == 'row'"}],"mark":{"type":"text","align":"left","dx":11,"fontSize":13,"color":"#222"},
           "encoding":{"x":{"datum":0,"type":"quantitative","scale":{"domain":[0,1]},"axis":null},"text":{"field":"label"}}},
          {"transform":[{"filter":"datum.kind == 'hl'"}],"mark":{"type":"text","align":"left","dx":11,"fontSize":13,"fontWeight":"bold","color":"#1a877d"},
           "encoding":{"x":{"datum":0,"type":"quantitative","scale":{"domain":[0,1]},"axis":null},"text":{"field":"label"}}}
         ]},
        {"width":268,"height":67,"view":{"fill":"#d0d0d0","stroke":"#cfcfcf"},"data":{"name":"tV"},"transform":[{"filter":"datum.t == 'tbn'"}],
         "encoding":{"y":{"field":"r","type":"ordinal","axis":null,"scale":{"paddingInner":0,"paddingOuter":0}},"x":{"field":"year","type":"ordinal","axis":null,"scale":{"paddingInner":0.015,"paddingOuter":0}}},
         "layer":[
          {"mark":{"type":"rect"},"encoding":{"fill":{"condition":{"test":"datum.r == 2","value":"#ecede0"},"value":"white"}}},
          {"transform":[{"filter":"datum.kind == 'row'"}],"mark":{"type":"text","align":"right","dx":-11,"fontSize":13,"color":"#222"},
           "encoding":{"x":{"field":"year","type":"ordinal","axis":null,"bandPosition":1},"text":{"field":"v","format":".1f"}}},
          {"transform":[{"filter":"datum.kind == 'hl'"}],"mark":{"type":"text","align":"right","dx":-11,"fontSize":13,"fontWeight":"bold","color":"#1a877d"},
           "encoding":{"x":{"field":"year","type":"ordinal","axis":null,"bandPosition":1},"text":{"field":"v","format":".1f"}}}
         ]}
       ]}
      ]}
    ]},
    {"spacing":14,"vconcat":[
     {"spacing":0,
      "title":{"text":"EVOLUÇÃO DO ÍNDICE SINTÉTICO DE FECUNDIDADE (ISF) (1997, 2002, 2007, 2012)","anchor":"start","frame":"group","offset":8,"dx":1,"fontSize":10,"fontWeight":"normal","color":"#2b9186"},
      "vconcat":[
       {"spacing":0,"hconcat":[
        {"width":182,"height":24,"view":{"fill":"#1a877d","stroke":"white"},"data":{"values":[{"h":"Local de Residência"}]},
         "mark":{"type":"text","align":"left","dx":2,"fontSize":13,"color":"white"},
         "encoding":{"x":{"datum":0,"type":"quantitative","scale":{"domain":[0,1]},"axis":null},"text":{"field":"h"}}},
        {"width":268,"height":24,"view":{"fill":"white","stroke":"white"},"data":{"values":[{"year":1997},{"year":2002},{"year":2007},{"year":2012}]},
         "encoding":{"x":{"field":"year","type":"ordinal","axis":null,"scale":{"paddingInner":0.015,"paddingOuter":0}}},
         "layer":[
          {"mark":{"type":"rect","fill":"#1a877d"}},
          {"mark":{"type":"text","fontSize":12.5,"fontWeight":"bold","color":"white"},"encoding":{"text":{"field":"year"}}}
         ]}
       ]},
       {"spacing":0,
        "title":{"text":"Fonte : Observatórios Regionais de Saúde (dados: INE, IP)","orient":"bottom","anchor":"end","frame":"bounds","offset":6,"dx":-1,"fontSize":8.5,"fontWeight":"normal","color":"#9a9a9a"},
        "hconcat":[
        {"width":182,"height":67,"view":{"stroke":"#cfcfcf"},"data":{"name":"tL"},
         "encoding":{"y":{"field":"r","type":"ordinal","axis":null,"scale":{"paddingInner":0,"paddingOuter":0}}},
         "layer":[
          {"transform":[{"filter":"datum.r == 2"}],"mark":{"type":"rect","fill":"#ecede0"}},
          {"transform":[{"filter":"datum.kind == 'row'"}],"mark":{"type":"text","align":"left","dx":11,"fontSize":13,"color":"#222"},
           "encoding":{"x":{"datum":0,"type":"quantitative","scale":{"domain":[0,1]},"axis":null},"text":{"field":"label"}}},
          {"transform":[{"filter":"datum.kind == 'hl'"}],"mark":{"type":"text","align":"left","dx":11,"fontSize":13,"fontWeight":"bold","color":"#1a877d"},
           "encoding":{"x":{"datum":0,"type":"quantitative","scale":{"domain":[0,1]},"axis":null},"text":{"field":"label"}}}
         ]},
        {"width":268,"height":67,"view":{"fill":"#d0d0d0","stroke":"#cfcfcf"},"data":{"name":"tV"},"transform":[{"filter":"datum.t == 'isf'"}],
         "encoding":{"y":{"field":"r","type":"ordinal","axis":null,"scale":{"paddingInner":0,"paddingOuter":0}},"x":{"field":"year","type":"ordinal","axis":null,"scale":{"paddingInner":0.015,"paddingOuter":0}}},
         "layer":[
          {"mark":{"type":"rect"},"encoding":{"fill":{"condition":{"test":"datum.r == 2","value":"#ecede0"},"value":"white"}}},
          {"transform":[{"filter":"datum.kind == 'row'"}],"mark":{"type":"text","align":"right","dx":-11,"fontSize":13,"color":"#222"},
           "encoding":{"x":{"field":"year","type":"ordinal","axis":null,"bandPosition":1},"text":{"field":"v","format":".2f"}}},
          {"transform":[{"filter":"datum.kind == 'hl'"}],"mark":{"type":"text","align":"right","dx":-11,"fontSize":13,"fontWeight":"bold","color":"#1a877d"},
           "encoding":{"x":{"field":"year","type":"ordinal","axis":null,"bandPosition":1},"text":{"field":"v","format":".2f"}}}
         ]}
       ]}
      ]},
     {"spacing":41,"vconcat":[
      {"width":450,"height":63,"data":{"name":"para"},
       "mark":{"type":"text","align":"left","dx":3,"fontSize":10,"color":"#777"},
       "encoding":{"y":{"field":"i","type":"ordinal","axis":null,"scale":{"paddingInner":0,"paddingOuter":0}},"x":{"datum":0,"type":"quantitative","scale":{"domain":[0,1]},"axis":null},"text":{"field":"line"}}},
      {"spacing":3,"hconcat":[
       {"width":1,"height":1,"data":{"values":[]},"mark":"rect","encoding":{}},
       {"width":28,"height":1,"view":{"fill":"#a0a0a0","stroke":null},
        "title":{"text":"Topo","anchor":"start","frame":"group","offset":1,"fontSize":12.5,"fontWeight":"normal","color":"#9a9a9a"},
        "data":{"values":[]},"mark":"rect","encoding":{}}
      ]}
     ]}
    ]}
   ]},
   {"spacing":21,"resolve":{"legend":{"color":"independent"}},"vconcat":[
    {"resolve":{"legend":{"color":"independent"}},
     "title":{"text":"Fonte : Observatórios Regionais de Saúde (dados: INE, IP)","orient":"bottom","anchor":"end","frame":"bounds","offset":7,"dx":12,"fontSize":8.5,"fontWeight":"normal","color":"#9a9a9a"},
     "vconcat":[{
      "title":{"text":"EVOLUÇÃO DA TAXA BRUTA DE NATALIDADE (/1000 HABITANTES), 1996-2012","anchor":"start","frame":"group","offset":7,"dx":14,"fontSize":10,"fontWeight":"normal","color":"#2b9186"},
      "width":440,"height":244,"view":{"stroke":"#d9d9d9"},
      "data":{"name":"tbn"},
      "mark":{"type":"line","interpolate":"monotone"},
      "encoding":{
       "x":{"field":"year","type":"ordinal","bandPosition":0.5,"scale":{"type":"band","paddingInner":0,"paddingOuter":0,"range":[52,429]},"axis":{"offset":-57,"tickBand":"extent","labelExpr":"datum.value % 2 == 0 ? datum.label : ''","labelFontSize":11,"title":null}},
       "y":{"field":"v","type":"quantitative","scale":{"domain":[0,14],"range":[187,4],"nice":false},"axis":{"offset":-52,"values":[0,2,4,6,8,10,12,14],"title":"Taxa bruta de natalidade (/1000 hab)","titleFontSize":11.5,"titleAngle":-90,"titleX":-42,"titleY":97,"titleAlign":"center","titleBaseline":"middle"}},
       "color":{"field":"s","type":"nominal","scale":{"domain":["Continente","ARS Alentejo","ACeS Alentejo Central"],"range":["#e0262b","#22396b","#1b8c80"]},
        "legend":{"title":null,"orient":"none","legendX":41,"legendY":223,"direction":"horizontal","symbolType":"stroke","symbolSize":676,"columnPadding":20,"labelOffset":9,"encode":{"symbols":{"update":{"strokeWidth":{"signal":"datum.value == 'ACeS Alentejo Central' ? 5 : 2"}}}}}},
       "strokeWidth":{"condition":{"test":"datum.s == 'ACeS Alentejo Central'","value":4.5},"value":2.2}
      }
     }]},
    {"resolve":{"legend":{"color":"independent"}},
     "title":{"text":"Fonte : Observatórios Regionais de Saúde (dados: INE, IP)","orient":"bottom","anchor":"end","frame":"bounds","offset":14,"dx":12,"fontSize":8.5,"fontWeight":"normal","color":"#9a9a9a"},
     "vconcat":[{
      "title":{"text":"EVOLUÇÃO DO ÍNDICE SINTÉTICO DE FECUNDIDADE (ISF), 1996-2012","anchor":"start","frame":"group","offset":4,"dx":14,"fontSize":10,"fontWeight":"normal","color":"#2b9186"},
      "width":440,"height":235,"view":{"stroke":"#d9d9d9"},
      "data":{"name":"isf"},
      "mark":{"type":"line","interpolate":"monotone"},
      "encoding":{
       "x":{"field":"year","type":"ordinal","bandPosition":0.5,"scale":{"type":"band","paddingInner":0,"paddingOuter":0,"range":[33,432]},"axis":{"offset":-53,"tickBand":"extent","labelExpr":"datum.value % 2 == 0 ? datum.label : ''","labelFontSize":11,"title":null}},
       "y":{"field":"v","type":"quantitative","scale":{"domain":[0,2],"range":[182,34],"nice":false},"axis":{"offset":-33,"values":[0,0.5,1,1.5,2],"format":".1f","title":"ISF","titleFontSize":11,"titleAngle":0,"titleX":-28,"titleY":12,"titleAlign":"left","titleBaseline":"middle"}},
       "color":{"field":"s","type":"nominal","scale":{"domain":["Continente","ARS Alentejo","ACeS Alentejo Central"],"range":["#e0262b","#22396b","#1b8c80"]},
        "legend":{"title":null,"orient":"none","legendX":41,"legendY":216,"direction":"horizontal","symbolType":"stroke","symbolSize":676,"columnPadding":20,"labelOffset":9,"encode":{"symbols":{"update":{"strokeWidth":{"signal":"datum.value == 'ACeS Alentejo Central' ? 5 : 2"}}}}}},
       "strokeWidth":{"condition":{"test":"datum.s == 'ACeS Alentejo Central'","value":4.5},"value":2.2}
      }
     }]}
   ]}
  ]}
 ]}
]
}
